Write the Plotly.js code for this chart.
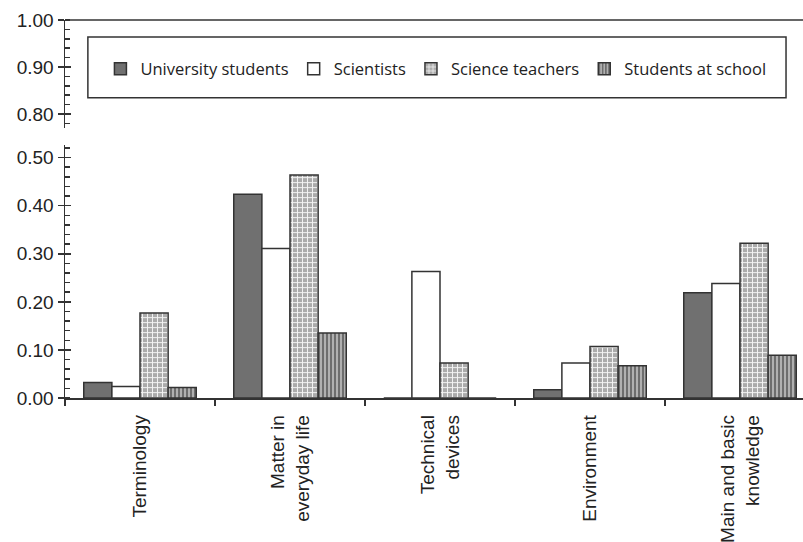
<!DOCTYPE html>
<html>
<head>
<meta charset="utf-8">
<script src="https://cdn.plot.ly/plotly-3.0.1.min.js"></script>
<style>html,body{margin:0;padding:0;background:#fff;}#chart{width:803px;height:542px;}</style>
</head>
<body>
<div id="chart"></div>
<script>
const categories = ["Terminology", "Matter in<br>everyday life", "Technical<br>devices", "Environment", "Main and basic<br>knowledge"];
const seriesNames = ["University students", "Scientists", "Science teachers", "Students at school"];
const universityStudents = [0.032, 0.424, 0.000, 0.017, 0.219];
const scientists = [0.024, 0.311, 0.263, 0.073, 0.238];
const scienceTeachers = [0.177, 0.464, 0.073, 0.107, 0.322];
const studentsAtSchool = [0.022, 0.135, 0.000, 0.067, 0.089];
const lowerTicks = [0, 0.1, 0.2, 0.3, 0.4, 0.5];
const upperTicks = [0.8, 0.9, 1.0];

const lineCol = '#333333';
const traces = [
  {name: seriesNames[0], y: universityStudents,
   marker: {color: '#707070', line: {color: lineCol, width: 1.5}}},
  {name: seriesNames[1], y: scientists,
   marker: {color: '#ffffff', line: {color: lineCol, width: 1.5}}},
  {name: seriesNames[2], y: scienceTeachers,
   marker: {color: '#b5b5b5', line: {color: lineCol, width: 1.5},
            pattern: {shape: '+', fgcolor: '#f4f4f4', bgcolor: '#ababab', size: 5, solidity: 0.35, fillmode: 'replace'}}},
  {name: seriesNames[3], y: studentsAtSchool,
   marker: {color: '#888888', line: {color: lineCol, width: 1.5},
            pattern: {shape: '|', fgcolor: '#505050', bgcolor: '#b0b0b0', size: 4, solidity: 0.35, fillmode: 'replace'}}}
].map(t => Object.assign({type: 'bar', x: categories, xaxis: 'x', yaxis: 'y', hoverinfo: 'skip'}, t));

const axisFont = {family: 'Liberation Sans, Arial, sans-serif', size: 19, color: '#222'};
const layout = {
  width: 803, height: 542,
  margin: {l: 65, r: 0, t: 20, b: 144},
  paper_bgcolor: '#fff', plot_bgcolor: 'rgba(0,0,0,0)',
  barmode: 'group', bargap: 0.25, bargroupgap: 0,
  showlegend: true,
  legend: {orientation: 'h', x: 0.048, y: 0.87, xanchor: 'left', yanchor: 'middle',
           font: {family: 'Open Sans, Noto Sans, sans-serif', size: 16.5, color: '#222'},
           bgcolor: 'rgba(0,0,0,0)', borderwidth: 0, itemwidth: 30, traceorder: 'normal'},
  xaxis: {type: 'category', range: [-0.5, 4.42], showline: true, linecolor: lineCol, linewidth: 1.5,
          ticks: 'outside', tickson: 'boundaries', ticklen: 6, tickcolor: lineCol, tickwidth: 1.5,
          tickangle: -90, tickfont: axisFont, ticklabelstandoff: 8,
          showgrid: false, zeroline: false, fixedrange: true},
  yaxis: {domain: [0, 0.669], range: [0, 0.526], tickvals: lowerTicks, tickformat: '.2f',
          showline: true, linecolor: lineCol, linewidth: 1.5, ticks: 'outside', ticklen: 6,
          tickcolor: lineCol, tickwidth: 1.5, tickfont: axisFont, showgrid: false, zeroline: false,
          minor: {dtick: 0.02, tick0: 0, ticks: 'inside', ticklen: 5, tickcolor: lineCol, tickwidth: 1.5}},
  yaxis3: {overlaying: 'y', domain: [0, 0.669], range: [0, 0.526], tickvals: lowerTicks,
           showticklabels: false, ticks: 'inside', ticklen: 6, tickcolor: lineCol, tickwidth: 1.5,
           showline: false, showgrid: false, zeroline: false, anchor: 'x'},
  yaxis2: {domain: [0.714, 1], range: [0.77, 1.0], tickvals: upperTicks, tickformat: '.2f', anchor: 'x',
           showline: true, linecolor: lineCol, linewidth: 1.5, ticks: 'outside', ticklen: 6,
           tickcolor: lineCol, tickwidth: 1.5, tickfont: axisFont, showgrid: false, zeroline: false,
           minor: {dtick: 0.02, tick0: 0, ticks: 'inside', ticklen: 5, tickcolor: lineCol, tickwidth: 1.5}},
  yaxis4: {overlaying: 'y2', domain: [0.714, 1], range: [0.77, 1.0], tickvals: upperTicks, anchor: 'x',
           showticklabels: false, ticks: 'inside', ticklen: 6, tickcolor: lineCol, tickwidth: 1.5,
           showline: false, showgrid: false, zeroline: false},
  shapes: [
    {type: 'line', xref: 'paper', yref: 'paper', x0: 0, x1: 1, y0: 1.0, y1: 1.0, line: {color: lineCol, width: 1.5}},
    {type: 'rect', xref: 'paper', yref: 'paper', x0: 0.031, x1: 0.977, y0: 0.794, y1: 0.955,
     line: {color: lineCol, width: 1.5}, fillcolor: 'rgba(0,0,0,0)'}
  ]
};
const dummy3 = {type: 'scatter', x: [categories[0]], y: [null], yaxis: 'y3', showlegend: false, hoverinfo: 'skip'};
const dummy2 = {type: 'scatter', x: [categories[0]], y: [null], yaxis: 'y2', showlegend: false, hoverinfo: 'skip'};
const dummy4 = {type: 'scatter', x: [categories[0]], y: [null], yaxis: 'y4', showlegend: false, hoverinfo: 'skip'};
Plotly.newPlot('chart', traces.concat([dummy2, dummy3, dummy4]), layout, {staticPlot: true});
</script>
</body>
</html>
